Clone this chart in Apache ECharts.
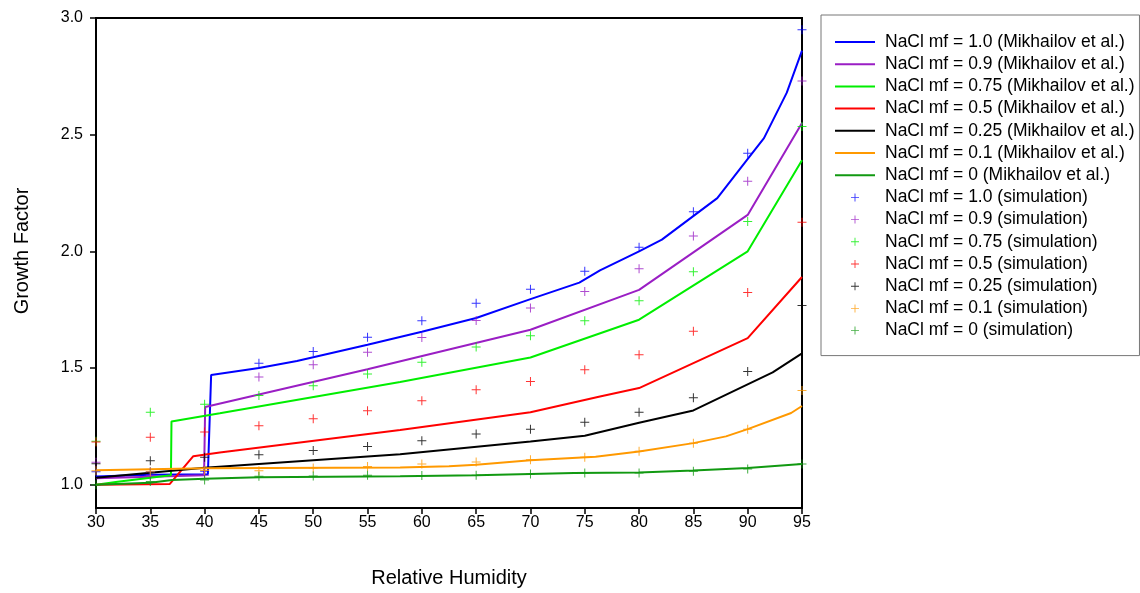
<!DOCTYPE html>
<html>
<head>
<meta charset="utf-8">
<script src="https://cdn.jsdelivr.net/npm/echarts@6/dist/echarts.min.js"></script>
<style>
  html, body { margin: 0; padding: 0; background: #fff; }
  #main { width: 1140px; height: 593px; }
</style>
</head>
<body>
<div id="main"></div>
<script>
// relative humidity of the simulation points
const simRH = [30, 35, 40, 45, 50, 55, 60, 65, 70, 75, 80, 85, 90, 95]
const yTicks = [1.0, 1.5, 2.0, 2.5, 3.0]

// Mikhailov et al. curves, [RH, growth factor]
const mik100 = [[30, 1.035], [35, 1.042], [40.3, 1.045], [40.6, 1.47], [45, 1.50], [48.5, 1.53], [55, 1.60], [60, 1.655], [65, 1.714], [70, 1.795], [74.5, 1.866], [76.4, 1.918], [80, 2.0], [82.1, 2.05], [87.2, 2.228], [89.9, 2.39], [91.5, 2.485], [93.6, 2.68], [95, 2.86]]
const mik090 = [[30, 1.028], [35, 1.034], [39.95, 1.04], [40.05, 1.333], [55, 1.495], [70, 1.664], [80, 1.835], [90, 2.156], [95, 2.55]]
const mik075 = [[30, 1.0], [32, 1.012], [35, 1.03], [36.9, 1.04], [36.95, 1.271], [41.4, 1.306], [58, 1.44], [70, 1.545], [80, 1.707], [90, 2.0], [95, 2.39]]
const mik050 = [[30, 1.0], [36.8, 1.003], [38.96, 1.122], [41.4, 1.138], [58, 1.234], [70, 1.31], [76.4, 1.378], [80, 1.414], [90, 1.628], [95, 1.89]]
const mik025 = [[30, 1.03], [40, 1.072], [58, 1.13], [70, 1.185], [75, 1.21], [80, 1.265], [85, 1.318], [92.3, 1.481], [95, 1.563]]
const mik010 = [[30, 1.062], [32.5, 1.064], [40, 1.07], [58, 1.074], [62.5, 1.079], [65, 1.085], [70, 1.105], [76, 1.12], [80, 1.142], [85, 1.178], [88, 1.207], [90, 1.238], [94, 1.307], [95, 1.337]]
const mik000 = [[30, 1.0], [35, 1.008], [37, 1.02], [40, 1.025], [45, 1.032], [58, 1.036], [65, 1.04], [74, 1.05], [80, 1.052], [85, 1.061], [90, 1.071], [95, 1.089]]

// simulation values at simRH
const sim100 = [1.055, 1.055, 1.057, 1.52, 1.571, 1.632, 1.702, 1.778, 1.838, 1.915, 2.018, 2.17, 2.42, 2.95]
const sim090 = [1.096, 1.04, 1.04, 1.461, 1.514, 1.567, 1.631, 1.704, 1.757, 1.828, 1.925, 2.066, 2.30, 2.73]
const sim075 = [1.186, 1.31, 1.345, 1.382, 1.424, 1.474, 1.525, 1.59, 1.638, 1.702, 1.788, 1.913, 2.128, 2.535]
const sim050 = [1.183, 1.203, 1.226, 1.253, 1.283, 1.317, 1.36, 1.407, 1.442, 1.492, 1.557, 1.657, 1.824, 2.125]
const sim025 = [1.09, 1.103, 1.117, 1.128, 1.146, 1.164, 1.188, 1.217, 1.238, 1.268, 1.31, 1.372, 1.485, 1.768]
const sim010 = [1.06, 1.055, 1.061, 1.06, 1.071, 1.078, 1.089, 1.097, 1.107, 1.118, 1.143, 1.178, 1.238, 1.404]
const sim000 = [1.0, 1.014, 1.02, 1.036, 1.037, 1.04, 1.039, 1.04, 1.046, 1.05, 1.05, 1.057, 1.067, 1.089]

const fracs = ['1.0', '0.9', '0.75', '0.5', '0.25', '0.1', '0']
const colors = ['#0000ff', '#9a1ec4', '#00ee00', '#ff0000', '#000000', '#ff9900', '#119911']
const mikData = [mik100, mik090, mik075, mik050, mik025, mik010, mik000]
const simData = [sim100, sim090, sim075, sim050, sim025, sim010, sim000]

const FONT = 'Liberation Sans'
const plus = 'path://M4,0h1v9h-1z M0,4h9v1h-9z'
const dash = 'path://M0,0h40v2h-40z'

const series = []
const legendData = []
mikData.forEach((d, i) => {
  const name = 'NaCl mf = ' + fracs[i] + ' (Mikhailov et al.)'
  series.push({
    name: name,
    type: 'line',
    data: d,
    symbol: 'none',
    lineStyle: { color: colors[i], width: 2 },
    itemStyle: { color: colors[i] }
  })
  legendData.push({ name: name, icon: dash })
})
simData.forEach((d, i) => {
  const name = 'NaCl mf = ' + fracs[i] + ' (simulation)'
  series.push({
    name: name,
    type: 'scatter',
    data: d.map((v, k) => [simRH[k], v]),
    symbol: plus,
    symbolSize: 9,
    itemStyle: { color: colors[i] },
    z: 3
  })
  legendData.push({ name: name, icon: plus })
})

const chart = echarts.init(document.getElementById('main'))
chart.setOption({
  animation: false,
  color: colors,
  grid: {
    left: 96, right: 338, top: 18, bottom: 85,
    show: true, borderColor: '#000', borderWidth: 2, backgroundColor: '#fff'
  },
  legend: {
    orient: 'vertical',
    left: 821, top: 15,
    padding: [17, 5, 15, 14],
    itemWidth: 40,
    itemHeight: 8,
    itemGap: 2.2,
    selectedMode: false,
    backgroundColor: '#fff',
    borderColor: '#777',
    borderWidth: 1,
    textStyle: { fontFamily: FONT, fontSize: 17.5, color: '#000', lineHeight: 20, padding: [0, 0, 0, 5] },
    data: legendData
  },
  xAxis: {
    type: 'value',
    min: 30, max: 95, interval: 5,
    name: 'Relative Humidity',
    nameLocation: 'middle',
    nameGap: 60,
    nameTextStyle: { fontFamily: FONT, fontSize: 20, color: '#000' },
    axisLine: { lineStyle: { color: '#000', width: 2 } },
    axisTick: { inside: false, length: 6, lineStyle: { color: '#000', width: 1.5 } },
    axisLabel: { fontFamily: FONT, fontSize: 16, color: '#000', margin: 7 },
    splitLine: { show: false }
  },
  yAxis: {
    type: 'value',
    min: 0.9, max: 3.0,
    name: 'Growth Factor',
    nameLocation: 'middle',
    nameGap: 64,
    nameTextStyle: { fontFamily: FONT, fontSize: 20, color: '#000', padding: [0, 0, 0, 24] },
    axisLine: { show: true, lineStyle: { color: '#000', width: 2 } },
    axisTick: { show: true, length: 6, customValues: yTicks, lineStyle: { color: '#000', width: 1.5 } },
    axisLabel: {
      fontFamily: FONT, fontSize: 16, color: '#000', margin: 13,
      customValues: yTicks,
      formatter: v => v.toFixed(1)
    },
    splitLine: { show: false }
  },
  series: series
})
</script>
</body>
</html>
